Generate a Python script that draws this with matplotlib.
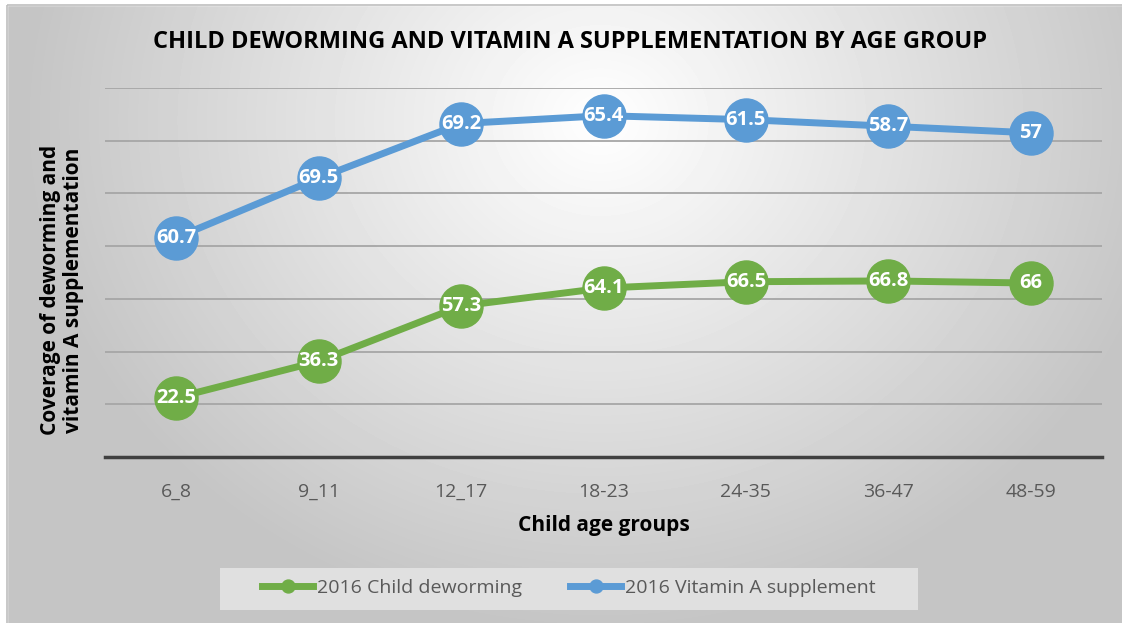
# -*- coding: utf-8 -*-
## Stacked line chart: child deworming and vitamin A by age group
import numpy as np
import matplotlib.pyplot as plt
from matplotlib.patches import Rectangle

# data
age_groups = ["6_8", "9_11", "12_17", "18-23", "24-35", "36-47", "48-59"]
deworming = [22.5, 36.3, 57.3, 64.1, 66.5, 66.8, 66]
vitamin_a = [60.7, 69.5, 69.2, 65.4, 61.5, 58.7, 57]

green = "#70AD47"
blue = "#5B9BD5"
grey_text = "#595959"

plt.rcParams["font.family"] = ["Open Sans", "DejaVu Sans"]

W, H = 1122, 623
fig = plt.figure(figsize=(W / 100, H / 100), dpi=100)

# background gradient (radial, light at top centre)
bg = fig.add_axes([0, 0, 1, 1])
yy, xx = np.mgrid[0:H, 0:W]
d = np.sqrt(((xx - 600) / 680.0) ** 2 + ((yy - 120) / 600.0) ** 2)
shade = np.clip(1.0 - 0.27 * d, 0.77, 1.0)
bg.imshow(shade, cmap="gray", vmin=0, vmax=1, extent=[0, W, H, 0], aspect="auto")
bg.add_patch(Rectangle((0, 0), W, 5, color="white"))
bg.add_patch(Rectangle((0, 0), 7, H, color="white"))
bg.add_patch(Rectangle((7, 5), W, H, fill=False, edgecolor="#bfbfbf", lw=1.2))
# legend box
bg.add_patch(Rectangle((220, 568), 698, 42, color="#e0e0e0", lw=0))
bg.set_xlim(0, W)
bg.set_ylim(H, 0)
bg.axis("off")

ax = fig.add_axes([105 / W, (H - 457) / H, (1102 - 105) / W, (457 - 88) / H])
ax.patch.set_alpha(0)

x = np.arange(len(age_groups))
stack_top = np.array(deworming) + np.array(vitamin_a)

ax.plot(x, deworming, color=green, lw=5, marker="o", ms=31,
        label="2016 Child deworming", clip_on=False, zorder=3)
ax.plot(x, stack_top, color=blue, lw=5, marker="o", ms=31,
        label="2016 Vitamin A supplement", clip_on=False, zorder=3)

for xi, v in zip(x, deworming):
    ax.text(xi, v, f"{v:g}", color="white", fontsize=14.5, fontweight="bold",
            ha="center", va="center", zorder=4)
for xi, v, top in zip(x, vitamin_a, stack_top):
    ax.text(xi, top, f"{v:g}", color="white", fontsize=14.5, fontweight="bold",
            ha="center", va="center", zorder=4)

ax.set_xlim(-0.5, len(age_groups) - 0.5)
ax.set_ylim(0, 140)
ax.set_yticks(np.arange(20, 141, 20))
ax.yaxis.grid(True, color="#a6a6a6", lw=1.3)
ax.set_axisbelow(True)
ax.tick_params(axis="y", left=False, labelleft=False)
ax.tick_params(axis="x", bottom=False, labelsize=14, labelcolor=grey_text, pad=15)
ax.set_xticks(x)
ax.set_xticklabels(age_groups)
for s in ["top", "right", "left"]:
    ax.spines[s].set_visible(False)
ax.spines["bottom"].set_color("#404040")
ax.spines["bottom"].set_linewidth(2.5)

ax.set_xlabel("Child age groups", fontsize=15, fontweight="bold", labelpad=10)
fig.text(62 / W, 1 - 290 / H, "Coverage of deworming and\nvitamin A supplementation",
         rotation=90, ha="center", va="center", fontsize=15, fontweight="bold",
         linespacing=1.1)
fig.text(570 / W, 1 - 42 / H, "CHILD DEWORMING AND VITAMIN A SUPPLEMENTATION BY AGE GROUP",
         ha="center", va="center", fontsize=17, fontweight="bold")

leg = ax.legend(loc="center", bbox_to_anchor=(569 / W, 1 - 588 / H),
                bbox_transform=fig.transFigure, ncol=2, frameon=False,
                fontsize=14, markerscale=0.3, handlelength=2.6,
                columnspacing=2.5, handletextpad=0.2)
for t in leg.get_texts():
    t.set_color(grey_text)

fig.savefig("out.png", dpi=100)
